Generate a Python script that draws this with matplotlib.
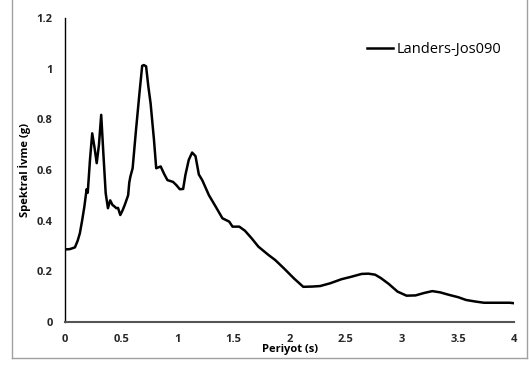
import matplotlib
matplotlib.use("Agg")
import matplotlib.pyplot as plt
from matplotlib.lines import Line2D

# Spektral ivme verisi
periyot = [0.0, 0.04, 0.086, 0.11, 0.13, 0.15, 0.17, 0.19, 0.2, 0.22, 0.24,
           0.26, 0.28, 0.30, 0.32, 0.34, 0.36, 0.38, 0.40, 0.42, 0.44, 0.455,
           0.47, 0.49, 0.51, 0.53, 0.56, 0.57, 0.58, 0.6, 0.63, 0.66, 0.685,
           0.70, 0.72, 0.74, 0.76, 0.79, 0.81, 0.85, 0.88, 0.91, 0.96, 0.99,
           1.02, 1.05, 1.07, 1.10, 1.13, 1.16, 1.19, 1.22, 1.28, 1.34, 1.40,
           1.46, 1.49, 1.55, 1.60, 1.66, 1.72, 1.81, 1.87, 1.95, 2.04, 2.12,
           2.20, 2.27, 2.36, 2.46, 2.55, 2.64, 2.70, 2.76, 2.81, 2.88, 2.96,
           3.04, 3.12, 3.20, 3.27, 3.34, 3.42, 3.50, 3.57, 3.65, 3.73, 3.85,
           3.96, 4.0]
ivme = [0.286, 0.287, 0.294, 0.32, 0.35, 0.40, 0.455, 0.524, 0.51, 0.64, 0.745,
        0.69, 0.627, 0.70, 0.818, 0.66, 0.508, 0.449, 0.48, 0.462, 0.455, 0.449,
        0.45, 0.422, 0.44, 0.462, 0.50, 0.55, 0.574, 0.607, 0.758, 0.90, 1.012,
        1.015, 1.01, 0.93, 0.864, 0.72, 0.607, 0.614, 0.585, 0.56, 0.553, 0.54,
        0.524, 0.525, 0.58, 0.64, 0.669, 0.655, 0.582, 0.56, 0.50, 0.455, 0.409,
        0.396, 0.376, 0.376, 0.36, 0.33, 0.297, 0.264, 0.244, 0.21, 0.17, 0.138,
        0.139, 0.141, 0.152, 0.168, 0.178, 0.189, 0.19, 0.186, 0.173, 0.15, 0.119,
        0.103, 0.104, 0.114, 0.121, 0.116, 0.106, 0.097, 0.086, 0.08, 0.075, 0.075,
        0.075, 0.073]

x_ticks = [0, 0.5, 1, 1.5, 2, 2.5, 3, 3.5, 4]
x_tick_labels = ["0", "0.5", "1", "1.5", "2", "2.5", "3", "3.5", "4"]
y_ticks = [0, 0.2, 0.4, 0.6, 0.8, 1.0, 1.2]
y_tick_labels = ["0", "0.2", "0.4", "0.6", "0.8", "1", "1.2"]
seri_adi = "Landers-Jos090"

plt.rcParams['font.family'] = ['Open Sans', 'DejaVu Sans']

fig = plt.figure(figsize=(5.29, 3.65), dpi=100)
ax = fig.add_axes([0.1234, 0.1186, 0.8488, 0.8313])

ax.plot(periyot, ivme, color='black', linewidth=1.8, solid_joinstyle='round')

ax.set_xlim(0, 4)
ax.set_ylim(0, 1.2)
ax.set_xticks(x_ticks)
ax.set_xticklabels(x_tick_labels, fontsize=8, fontweight='bold', color='#262626')
ax.set_yticks(y_ticks)
ax.set_yticklabels(y_tick_labels, fontsize=8, fontweight='bold', color='#262626')
ax.tick_params(axis='x', length=0, pad=9)
ax.tick_params(axis='y', length=0, pad=9)

for s in ['top', 'right']:
    ax.spines[s].set_visible(False)
ax.spines['left'].set_color('black')
ax.spines['left'].set_linewidth(1.0)
ax.spines['bottom'].set_color('#555555')
ax.spines['bottom'].set_linewidth(1.5)

ax.set_xlabel("Periyot (s)", fontsize=8, fontweight='bold', labelpad=-1)
ax.set_ylabel("Spektral İvme (g)", fontsize=8, fontweight='bold', labelpad=4)

# Lejant
ax.legend([Line2D([0], [0], color='black', linewidth=1.8)], [seri_adi],
          loc='upper right', bbox_to_anchor=(1.0, 0.965), frameon=False,
          fontsize=10.5, handlelength=1.75, handletextpad=0.25)

# Grafik çerçevesi (gri kenarlık)
fig.add_artist(Line2D([12/529, 12/529], [1 - 358/365, 1.0], color='#a0a0a0', lw=1.0))
fig.add_artist(Line2D([12/529, 527/529], [1 - 358/365, 1 - 358/365], color='#a0a0a0', lw=1.0))
fig.add_artist(Line2D([527/529, 527/529], [1 - 358/365, 1.0], color='#a0a0a0', lw=1.0))

fig.savefig("out.png", dpi=100)
